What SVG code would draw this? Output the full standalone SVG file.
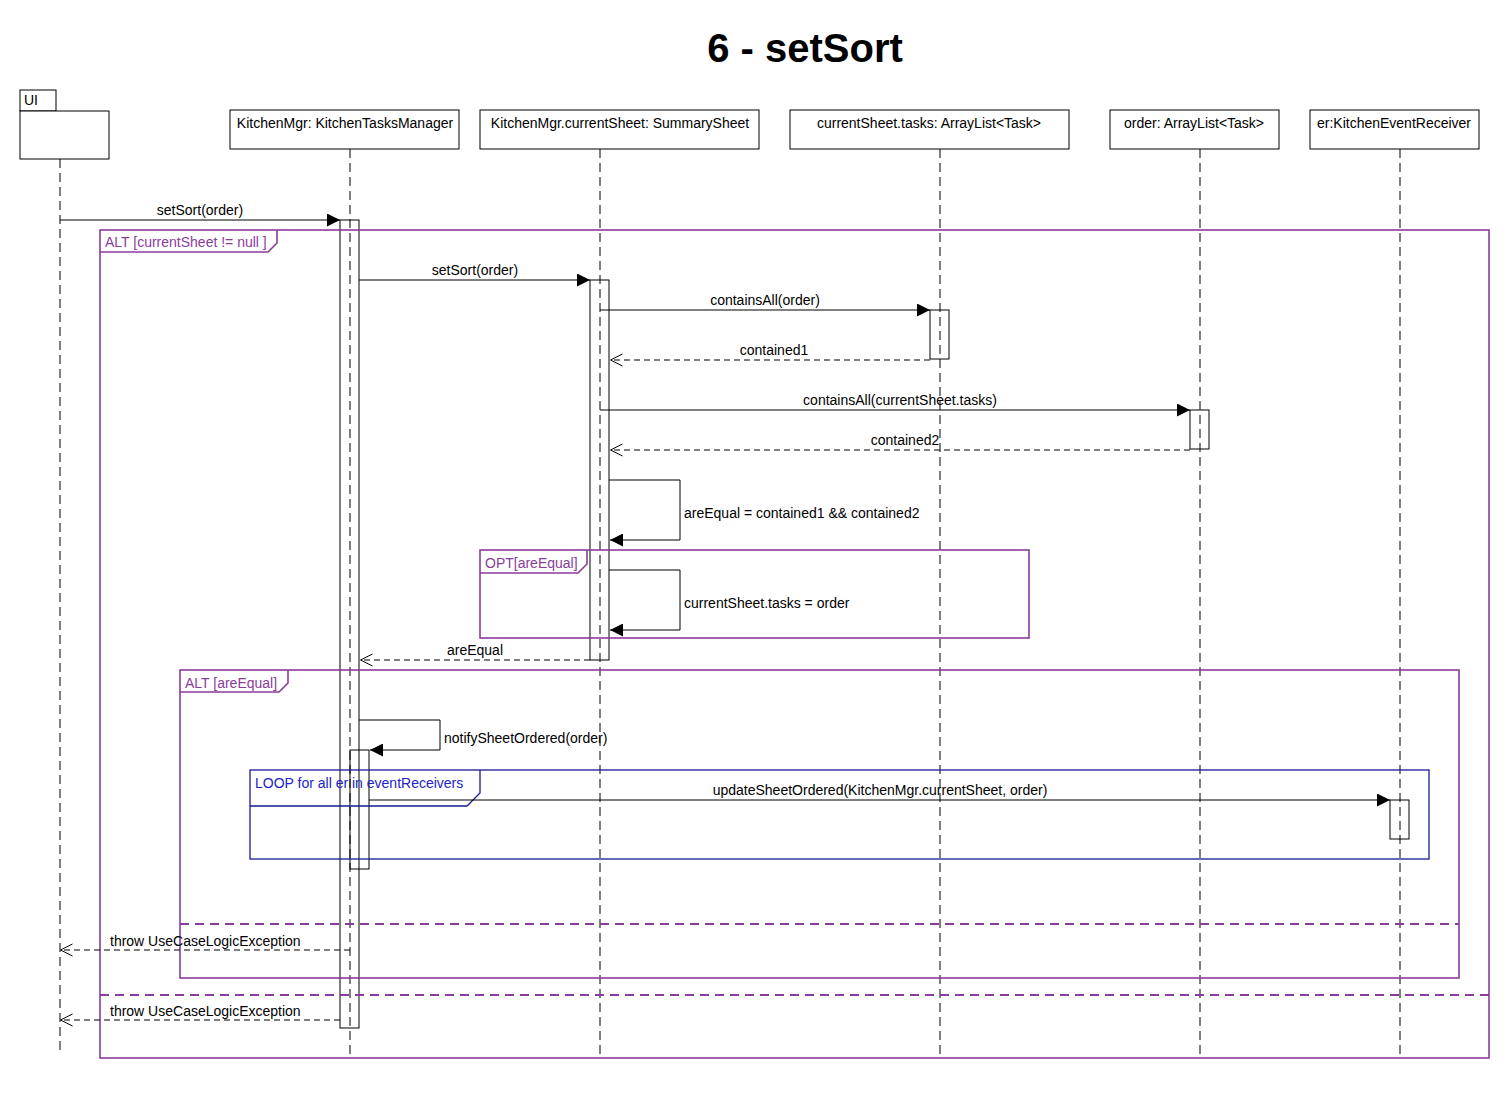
<svg xmlns="http://www.w3.org/2000/svg" width="1510" height="1100" viewBox="0 0 1510 1100">
<defs>
<style>
text{font-family:"Liberation Sans",Arial,sans-serif;font-size:14px;fill:#000}
.title{font-size:40px;font-weight:bold}
.box{fill:#fff;stroke:#000;stroke-width:1}
.life{stroke:#000;stroke-width:1;stroke-dasharray:9,5;fill:none}
.act{fill:none;stroke:#000;stroke-width:1}
.msg{stroke:#000;stroke-width:1;fill:none;marker-end:url(#filled)}
.ret{stroke:#000;stroke-width:1;fill:none;stroke-dasharray:6,4;marker-end:url(#open)}
.frame{fill:none;stroke:#8a3c9c;stroke-width:1.6}
.sep{stroke:#8a3c9c;stroke-width:2;stroke-dasharray:9,6}
.ftxt{fill:#8a3c9c}
.loop{fill:none;stroke:#1a1a96;stroke-width:1.3}
.ltxt{fill:#2222c8}
.mid{text-anchor:middle}
</style>
<marker id="filled" markerUnits="userSpaceOnUse" markerWidth="14" markerHeight="13" refX="13" refY="6.5" orient="auto">
<path d="M0,0 L13,6.5 L0,13 z" fill="#000"/>
</marker>
<marker id="open" markerUnits="userSpaceOnUse" markerWidth="14" markerHeight="14" refX="12.5" refY="7" orient="auto">
<path d="M0,1 L12,7 L0,13" fill="none" stroke="#000" stroke-width="1"/>
</marker>
</defs>
<rect width="1510" height="1100" fill="#fff"/>
<text class="title mid" x="805" y="62">6 - setSort</text>

<g id="lifelines">
<line class="life" x1="60" y1="159" x2="60" y2="1050"/>
<line class="life" x1="350" y1="149" x2="350" y2="1055"/>
<line class="life" x1="600" y1="149" x2="600" y2="1055"/>
<line class="life" x1="940" y1="149" x2="940" y2="1055"/>
<line class="life" x1="1200" y1="149" x2="1200" y2="1055"/>
<line class="life" x1="1400" y1="149" x2="1400" y2="1055"/>
</g>

<g id="node-ui">
<rect class="box" x="20" y="90" width="36" height="21"/>
<rect class="box" x="20" y="111" width="89" height="48"/>
<text x="24" y="105">UI</text>
</g>
<g id="node-kitchenmgr">
<rect class="box" x="230" y="110" width="229" height="39"/>
<text class="mid" x="345" y="128">KitchenMgr: KitchenTasksManager</text>
</g>
<g id="node-summarysheet">
<rect class="box" x="480" y="110" width="279" height="39"/>
<text class="mid" x="620" y="128">KitchenMgr.currentSheet: SummarySheet</text>
</g>
<g id="node-tasks">
<rect class="box" x="790" y="110" width="279" height="39"/>
<text class="mid" x="929" y="128">currentSheet.tasks: ArrayList&lt;Task&gt;</text>
</g>
<g id="node-order">
<rect class="box" x="1110" y="110" width="169" height="39"/>
<text class="mid" x="1194" y="128">order: ArrayList&lt;Task&gt;</text>
</g>
<g id="node-er">
<rect class="box" x="1310" y="110" width="169" height="39"/>
<text class="mid" x="1394" y="128">er:KitchenEventReceiver</text>
</g>

<g id="activations">
<rect class="act" x="340" y="220" width="19" height="808"/>
<rect class="act" x="590" y="280" width="19" height="380"/>
<rect class="act" x="930" y="310" width="19" height="49"/>
<rect class="act" x="1190" y="410" width="19" height="39"/>
<rect class="act" x="350" y="750" width="19" height="119"/>
<rect class="act" x="1390" y="800" width="19" height="39"/>
</g>

<g id="frames">
<g id="frame-alt-outer">
<rect class="frame" x="100" y="230" width="1389" height="828"/>
<path class="frame" d="M100,252 H268 L277,243 V230"/>
<text class="ftxt" x="105" y="247">ALT [currentSheet != null ]</text>
<line class="sep" x1="100" y1="995" x2="1489" y2="995"/>
</g>
<g id="frame-opt">
<rect class="frame" x="480" y="550" width="549" height="88"/>
<path class="frame" d="M480,573 H578 L587,564 V550"/>
<text class="ftxt" x="485" y="568">OPT[areEqual]</text>
</g>
<g id="frame-alt-inner">
<rect class="frame" x="180" y="670" width="1279" height="308"/>
<path class="frame" d="M180,692 H279 L288,683 V670"/>
<text class="ftxt" x="185" y="688">ALT [areEqual]</text>
<line class="sep" x1="180" y1="924" x2="1459" y2="924"/>
</g>
<g id="frame-loop">
<rect class="loop" x="250" y="770" width="1179" height="89"/>
<path class="loop" d="M250,806 H467 L480,793 V770"/>
<text class="ltxt" x="255" y="788">LOOP for all er in eventReceivers</text>
</g>
</g>

<g id="connectors">
<line class="msg" x1="60" y1="220" x2="340" y2="220"/>
<text class="mid" x="200" y="215">setSort(order)</text>
<line class="msg" x1="359" y1="280" x2="590" y2="280"/>
<text class="mid" x="475" y="275">setSort(order)</text>
<line class="msg" x1="600" y1="310" x2="930" y2="310"/>
<text class="mid" x="765" y="305">containsAll(order)</text>
<line class="ret" x1="930" y1="360" x2="610" y2="360"/>
<text class="mid" x="774" y="355">contained1</text>
<line class="msg" x1="600" y1="410" x2="1190" y2="410"/>
<text class="mid" x="900" y="405">containsAll(currentSheet.tasks)</text>
<line class="ret" x1="1190" y1="450" x2="610" y2="450"/>
<text class="mid" x="905" y="445">contained2</text>
<path class="msg" d="M609,480 H680 V540 H610"/>
<text x="684" y="518">areEqual = contained1 &amp;&amp; contained2</text>
<path class="msg" d="M609,570 H680 V630 H610"/>
<text x="684" y="608">currentSheet.tasks = order</text>
<line class="ret" x1="590" y1="660" x2="360" y2="660"/>
<text class="mid" x="475" y="655">areEqual</text>
<path class="msg" d="M359,720 H440 V750 H370"/>
<text x="444" y="743">notifySheetOrdered(order)</text>
<line class="msg" x1="369" y1="800" x2="1390" y2="800"/>
<text class="mid" x="880" y="795">updateSheetOrdered(KitchenMgr.currentSheet, order)</text>
<line class="ret" x1="350" y1="950" x2="60" y2="950"/>
<text x="110" y="946">throw UseCaseLogicException</text>
<line class="ret" x1="340" y1="1020" x2="60" y2="1020"/>
<text x="110" y="1016">throw UseCaseLogicException</text>
</g>
</svg>
